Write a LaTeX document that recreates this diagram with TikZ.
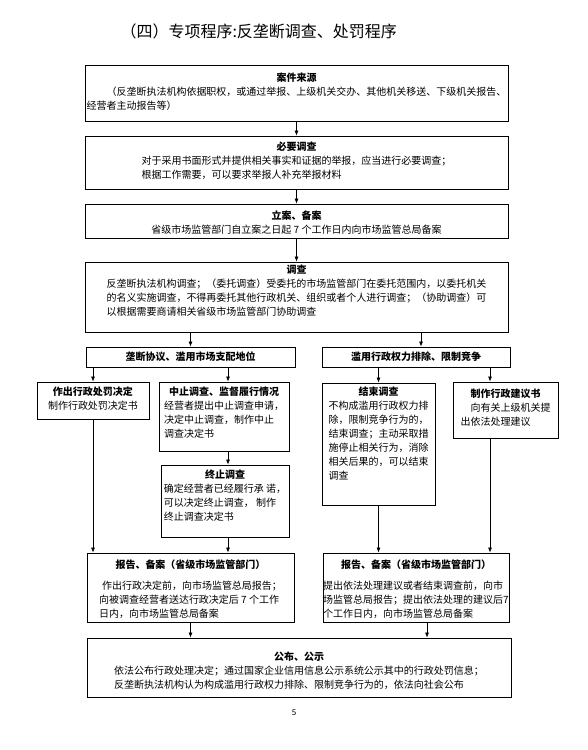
\documentclass[tikz,border=0pt]{standalone}
\usepackage{fontspec}
\setmainfont{Noto Sans CJK SC}
\usetikzlibrary{positioning, arrows.meta}

\tikzset{
  box/.style={draw, line width=0.8pt, inner sep=0pt},
  in box/.style={inner sep=0pt, font=\fontsize{10}{14}\selectfont},
  box head/.style={font=\fontsize{10}{14}\selectfont\bfseries},
  arr/.style={-{Latex[length=5pt,width=4pt]}, line width=0.7pt},
}

\begin{document}
\begin{tikzpicture}[x=1pt, y=-1pt]
    \useasboundingbox (0,0) rectangle (588,750);

    \node[anchor=west, font=\fontsize{16}{19}\selectfont] (title) at (117,31) {（四）专项程序:反垄断调查、处罚程序};

    % columns for the arrows that are off centre
    \coordinate (mid col) at (228,0);
    \coordinate (admin col) at (421,0);
    \coordinate (right col) at (490,0);
    \coordinate (pub col) at (427,0);

    \node (src) at (296.5,93) [box,minimum width=423pt,minimum height=56pt] {};
    \node[in box, below=7pt of src.north] (src text) {\begin{tabular}{@{}l@{}}
        \multicolumn{1}{@{}c@{}}{\bfseries 案件来源}\\
        \hspace{2em}（反垄断执法机构依据职权，或通过举报、上级机关交办、其他机关移送、下级机关报告、\\
        经营者主动报告等）
    \end{tabular}};

    \node (nec) at (296.5,162.5) [box,minimum width=423pt,minimum height=53pt] {};
    \node[in box, below=5pt of nec.north] (nec text) {\begin{tabular}{@{}l@{}}
        \multicolumn{1}{@{}c@{}}{\bfseries 必要调查}\\
        对于采用书面形式并提供相关事实和证据的举报，应当进行必要调查；\\
        根据工作需要，可以要求举报人补充举报材料
    \end{tabular}};

    \node (reg) at (296.5,221) [box,minimum width=423pt,minimum height=34pt] {};
    \node[in box, below=6pt of reg.north] (reg text) {\begin{tabular}{@{}c@{}}
        {\bfseries 立案、备案}\\
        省级市场监管部门自立案之日起 7 个工作日内向市场监管总局备案
    \end{tabular}};

    \node (inv) at (296.5,297) [box,minimum width=423pt,minimum height=70pt] {};
    \node[in box, below=2pt of inv.north] (inv text) {\begin{tabular}{@{}l@{}}
        \multicolumn{1}{@{}c@{}}{\bfseries 调查}\\
        反垄断执法机构调查；（委托调查）受委托的市场监管部门在委托范围内，以委托机关\\
        的名义实施调查，不得再委托其他行政机关、组织或者个人进行调查；（协助调查）可\\
        以根据需要商请相关省级市场监管部门协助调查
    \end{tabular}};

    % two branches
    \node (mono) at (190.5,357) [box,box head,minimum width=209pt,minimum height=20pt] {垄断协议、滥用市场支配地位};
    \node (admin) at (416,357) [box,box head,minimum width=188pt,minimum height=20pt] {滥用行政权力排除、限制竞争};

    \node (pen) at (93,400.5) [box,minimum width=112pt,minimum height=37pt] {};
    \node[in box, below=4pt of pen.north] (pen text) {\begin{tabular}{@{}c@{}}
        {\bfseries 作出行政处罚决定}\\
        制作行政处罚决定书
    \end{tabular}};

    \node (susp) at (224,416.5) [box,minimum width=130pt,minimum height=69pt] {};
    \node[in box, below=4pt of susp.north] (susp text) {\begin{tabular}{@{}l@{}}
        \multicolumn{1}{@{}c@{}}{\bfseries 中止调查、监督履行情况}\\
        经营者提出中止调查申请，\\
        决定中止调查，制作中止\\
        调查决定书
    \end{tabular}};

    \node (term) at (225,501) [box,minimum width=128pt,minimum height=72pt] {};
    \node[in box, below=4pt of term.north] (term text) {\begin{tabular}{@{}l@{}}
        \multicolumn{1}{@{}c@{}}{\bfseries 终止调查}\\
        确定经营者已经履行承 诺，\\
        可以决定终止调查， 制作\\
        终止调查决定书
    \end{tabular}};

    \node (close) at (378.5,444) [box,minimum width=113pt,minimum height=122pt] {};
    \node[in box, below=3pt of close.north] (close text) {\begin{tabular}{@{}l@{}}
        \multicolumn{1}{@{}c@{}}{\bfseries 结束调查}\\
        不构成滥用行政权力排\\
        除，限制竞争行为的，\\
        结束调查；主动采取措\\
        施停止相关行为，消除\\
        相关后果的，可以结束\\
        调查
    \end{tabular}};

    \node (sugg) at (505.5,410) [box,minimum width=105pt,minimum height=56pt] {};
    \node[in box, below=6pt of sugg.north] (sugg text) {\begin{tabular}{@{}l@{}}
        \multicolumn{1}{@{}c@{}}{\bfseries 制作行政建议书}\\
        \hspace{1em}向有关上级机关提\\
        出依法处理建议
    \end{tabular}};

    % reports
    \node (repL) at (190.5,587.5) [box,minimum width=207pt,minimum height=69pt] {};
    \node[in box, below=6pt of repL.north] (repL text) {\begin{tabular}{@{}l@{}}
        \multicolumn{1}{@{}c@{}}{\bfseries 报告、备案（省级市场监管部门）}\\[7pt]
        \hspace{0.3em}作出行政决定前，向市场监管总局报告；\\
        向被调查经营者送达行政决定后 7 个工作\\
        日内，向市场监管总局备案
    \end{tabular}};

    \node (repR) at (416,587.5) [box,minimum width=186pt,minimum height=69pt] {};
    \node[in box, below=6pt of repR.north] (repR text) {\begin{tabular}{@{}l@{}}
        \multicolumn{1}{@{}c@{}}{\bfseries 报告、备案（省级市场监管部门）}\\[7pt]
        提出依法处理建议或者结束调查前，向市\\
        场监管总局报告；提出依法处理的建议后7\\
        个工作日内，向市场监管总局备案
    \end{tabular}};

    \node (pub) at (299,667.5) [box,minimum width=424pt,minimum height=59pt] {};
    \node[in box, below=13pt of pub.north] (pub text) {\begin{tabular}{@{}l@{}}
        \multicolumn{1}{@{}c@{}}{\bfseries 公布、公示}\\
        依法公布行政处理决定；通过国家企业信用信息公示系统公示其中的行政处罚信息；\\
        反垄断执法机构认为构成滥用行政权力排除、限制竞争行为的，依法向社会公布
    \end{tabular}};

    \node[font=\fontsize{8}{10}\selectfont] (page) at (294,713) {5};

    \draw[arr] (src.south) -- (nec.north);
    \draw[arr] (nec.south) -- (reg.north);
    \draw[arr] (reg.south) -- (inv.north);
    \draw[arr] (inv.south -| mono.north) -- (mono.north);
    \draw[arr] (inv.south -| admin col) -- (admin.north -| admin col);

    \draw[arr] (mono.south -| pen.north) -- (pen.north);
    \draw[arr] (mono.south -| mid col) -- (susp.north -| mid col);
    \draw[arr] (susp.south -| mid col) -- (term.north -| mid col);
    \draw[arr] (term.south -| mid col) -- (repL.north -| mid col);
    \draw[arr] (pen.south) -- (pen.south |- repL.north);

    \draw[arr] (admin.south -| close.north) -- (close.north);
    \draw[arr] (admin.south -| right col) -- (sugg.north -| right col);
    \draw[arr] (close.south) -- (close.south |- repR.north);
    \draw[arr] (sugg.south -| right col) -- (repR.north -| right col);

    \draw[arr] (repL.south) -- (repL.south |- pub.north);
    \draw[arr] (repR.south -| pub col) -- (pub.north -| pub col);
\end{tikzpicture}
\end{document}
